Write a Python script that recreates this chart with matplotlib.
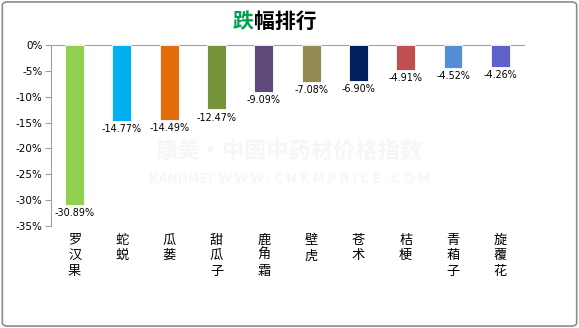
import matplotlib.pyplot as plt
from matplotlib.patches import FancyBboxPatch

plt.rcParams['font.family'] = ['Noto Sans CJK SC', 'DejaVu Sans']

names = ["罗汉果", "蛇蜕", "瓜蒌", "甜瓜子", "鹿角霜", "壁虎", "苍术", "桔梗", "青葙子", "旋覆花"]
values = [-30.89, -14.77, -14.49, -12.47, -9.09, -7.08, -6.90, -4.91, -4.52, -4.26]
colors = ["#92D050", "#00B0F0", "#E46C0A", "#77933C", "#604A7B",
          "#948A54", "#002060", "#C0504D", "#558ED5", "#6060CC"]
yticks = [0, -5, -10, -15, -20, -25, -30, -35]

fig = plt.figure(figsize=(5.79, 3.28), dpi=100)
fig.patches.append(FancyBboxPatch((0.004, 0.006), 0.992, 0.988, boxstyle="round,pad=0,rounding_size=0.01",
                                  transform=fig.transFigure, fill=False, edgecolor="#8c8c8c", lw=1.2))
ax = fig.add_axes([0.088, 0.311, 0.817, 0.552])

x = range(len(names))
ax.bar(x, values, width=0.4, color=colors, edgecolor="white", linewidth=0.6, zorder=3)
for i, v in enumerate(values):
    ax.text(i, v - 0.6, f"{v:.2f}%", ha="center", va="top", fontsize=6.9,
            family="DejaVu Sans", zorder=4)

ax.set_xlim(-0.5, len(names) - 0.5)
ax.set_ylim(-35, 0)
ax.set_yticks(yticks)
ax.set_yticklabels([f"{t}%" for t in yticks], fontsize=7.5, family="DejaVu Sans")
ax.tick_params(axis="y", length=4, color="#a0a0a0", pad=2)
ax.set_xticks([])
for s in ["right", "bottom"]:
    ax.spines[s].set_visible(False)
ax.spines["left"].set_color("#a0a0a0")
ax.spines["top"].set_color("#a0a0a0")

for i, n in enumerate(names):
    ax.text(i, -36.5, "\n".join(n), ha="center", va="top", fontsize=9.5,
            linespacing=1.25, clip_on=False)

# watermark
fig.text(0.5, 0.54, "康美·中国中药材价格指数", ha="center", va="center", fontsize=16,
         color="#f6f6f6", fontweight="bold", zorder=0)
fig.text(0.5, 0.455, "KANGMEI  W W W . C N K M P R I C E . C O M", ha="center", va="center",
         fontsize=10, color="#f6f6f6", fontweight="bold", zorder=0)

fig.text(0.402, 0.935, "跌", ha="left", va="center", fontsize=15, fontweight="bold", color="#00A050")
fig.text(0.438, 0.935, "幅排行", ha="left", va="center", fontsize=15, fontweight="bold", color="black")

fig.savefig("out.png", dpi=100)
